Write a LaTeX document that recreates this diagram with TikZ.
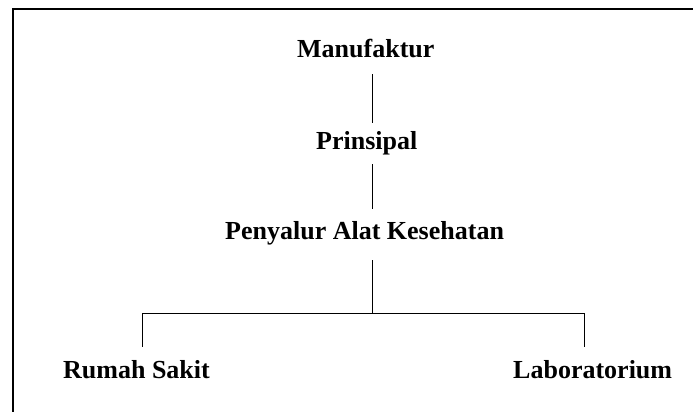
\documentclass[tikz,border=0pt]{standalone}
\usepackage{fontspec}
\setmainfont{Liberation Serif}
\begin{document}
\begin{tikzpicture}[x=1pt,y=-1pt,
  lbl/.style={anchor=base west,inner sep=0pt,font=\fontsize{26}{30}\selectfont\bfseries,text height=18pt,text depth=6pt},
  conn/.style={line width=1pt,black}]
\useasboundingbox (0,0) rectangle (693,412);
\fill[white] (0,0) rectangle (693,412);
% frame (top and left edges)
\draw[line width=2pt] (13,600) -- (13,9.5) -- (800,9.5);
% nodes
\node[lbl] (m) at (297,57) {Manufaktur};
\node[lbl] (p) at (316,149) {Prinsipal};
\node[lbl] (d) at (225,239) {Penyalur Alat Kesehatan};
\node[lbl] (r) at (63,378) {Rumah Sakit};
\node[lbl] (l) at (513,378) {Laboratorium};
\coordinate (j) at (372,313);
\coordinate (jl) at (142,313);
\coordinate (jr) at (584,313);
% connectors
\draw[conn] ([yshift=-11pt]m.south -| j) -- ([yshift=8pt]p.north -| j);
\draw[conn] ([yshift=-9pt]p.south -| j) -- ([yshift=12pt]d.north -| j);
\draw[conn] ([yshift=-15pt]d.south -| j) -- (j);
\draw[conn] (jl) -- (jr);
\draw[conn] (jl) -- ([yshift=13pt]r.north -| jl);
\draw[conn] (jr) -- ([yshift=13pt]l.north -| jr);
\end{tikzpicture}
\end{document}
